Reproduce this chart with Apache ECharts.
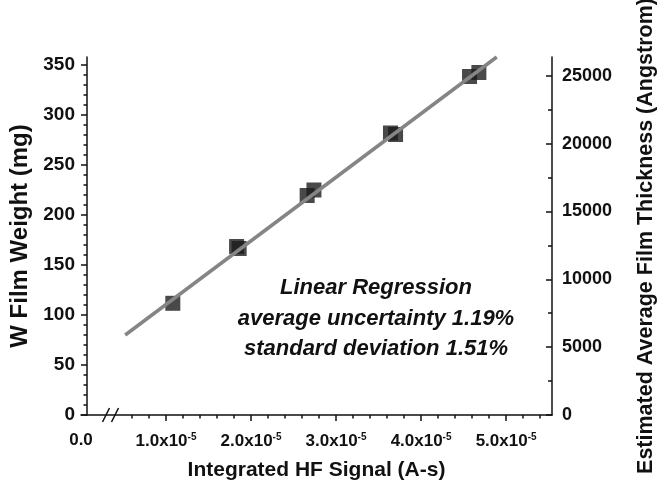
<!DOCTYPE html>
<html>
<head>
<meta charset="utf-8">
<script src="https://cdn.jsdelivr.net/npm/echarts@6/dist/echarts.min.js"></script>
<style>
  html, body { margin: 0; padding: 0; background: #fff; }
  #chart { width: 658px; height: 491px; }
</style>
</head>
<body>
<div id="chart"></div>
<script>
  // measured points: integrated HF signal (A-s) vs W film weight (mg)
  var signal = [1.08e-5, 1.83e-5, 1.86e-5, 2.66e-5, 2.74e-5, 3.64e-5, 3.70e-5, 4.57e-5, 4.68e-5];
  var weight = [111.7, 168.5, 166.5, 219.5, 225, 282, 280.5, 338.5, 342.5];

  // regression line end points
  var fitSignal = [0.52e-5, 4.89e-5];
  var fitWeight = [80, 358];

  // axis ticks
  var xMajor = [1e-5, 2e-5, 3e-5, 4e-5, 5e-5];
  var xLabels = [0, 1e-5, 2e-5, 3e-5, 4e-5, 5e-5];
  var yMajor = [0, 50, 100, 150, 200, 250, 300, 350];
  var thickMajor = [0, 5000, 10000, 15000, 20000, 25000];

  var X_MAX = 5.54e-5;
  var W_MAX = 358;
  var ANG_PER_MG = 73.7;   // right axis scale

  var xMinor = [];
  for (var i = 3; i <= 27; i++) {
    if (i % 5 != 0) xMinor.push(i * 0.2e-5);
  }
  var yMinor = [];
  for (var j = 0; j <= 350; j += 10) {
    if (j % 50 != 0) yMinor.push(j);
  }
  var thickMinor = [2500, 7500, 12500, 17500, 22500];

  var FONT = '"Liberation Sans", Arial, sans-serif';
  var INK = '#111';

  var chart = echarts.init(document.getElementById('chart'));

  var points = signal.map(function (s, k) { return [s, weight[k]]; });
  var fit = fitSignal.map(function (s, k) { return [s, fitWeight[k]]; });

  var option = {
    animation: false,
    backgroundColor: '#fff',
    grid: { left: 81, right: 106, top: 57, bottom: 76, outerBoundsMode: 'none', containLabel: false },
    xAxis: [
      {
        type: 'value',
        min: 0,
        max: X_MAX,
        name: 'Integrated HF Signal (A-s)',
        nameLocation: 'middle',
        nameGap: 45,
        nameTextStyle: { fontFamily: FONT, fontWeight: 'bold', fontSize: 21, color: INK },
        splitLine: { show: false },
        axisLine: { lineStyle: { color: INK, width: 1.5 } },
        axisTick: { customValues: xMajor, length: 6, lineStyle: { color: INK, width: 1.5 } },
        axisLabel: {
          customValues: xLabels,
          margin: 17,
          formatter: function (v) {
            if (v === 0) return '{a|0.0}';
            return '{a|' + (v / 1e-5).toFixed(1) + 'x10}{s|-5}';
          },
          rich: {
            a: { fontFamily: FONT, fontWeight: 'bold', fontSize: 17, color: INK },
            s: { fontFamily: FONT, fontWeight: 'bold', fontSize: 10, color: INK, verticalAlign: 'top', padding: [0, 0, 8, 0] }
          }
        }
      },
      {
        type: 'value',
        min: 0,
        max: X_MAX,
        position: 'bottom',
        splitLine: { show: false },
        axisLine: { show: false },
        axisLabel: { show: false },
        axisTick: { customValues: xMinor, length: 3.5, lineStyle: { color: INK, width: 1.5 } }
      }
    ],
    yAxis: [
      {
        type: 'value',
        min: 0,
        max: W_MAX,
        offset: -6,
        name: 'W Film Weight (mg)',
        nameLocation: 'middle',
        nameRotate: 90,
        nameGap: 48,
        nameTextStyle: { fontFamily: FONT, fontWeight: 'bold', fontSize: 24, color: INK },
        splitLine: { show: false },
        axisLine: { show: true, lineStyle: { color: INK, width: 1.5 } },
        axisTick: { show: true, customValues: yMajor, length: 6, lineStyle: { color: INK, width: 1.5 } },
        axisLabel: {
          customValues: yMajor,
          margin: 12,
          fontFamily: FONT, fontWeight: 'bold', fontSize: 19, color: INK
        }
      },
      {
        type: 'value',
        min: 0,
        max: W_MAX,
        offset: -6,
        position: 'left',
        splitLine: { show: false },
        axisLine: { show: false },
        axisLabel: { show: false },
        axisTick: { show: true, customValues: yMinor, length: 3.5, lineStyle: { color: INK, width: 1.5 } }
      },
      {
        type: 'value',
        min: 0,
        max: W_MAX * ANG_PER_MG,
        position: 'right',
        name: 'Estimated Average Film Thickness (Angstrom)',
        nameLocation: 'middle',
        nameRotate: 90,
        nameGap: 83,
        nameTextStyle: { fontFamily: FONT, fontWeight: 'bold', fontSize: 21.5, color: INK },
        splitLine: { show: false },
        axisLine: { show: true, lineStyle: { color: INK, width: 1.5 } },
        axisTick: { show: true, inside: true, customValues: thickMajor, length: 6, lineStyle: { color: INK, width: 1.5 } },
        axisLabel: {
          customValues: thickMajor,
          margin: 10,
          formatter: function (v) { return String(v); },
          fontFamily: FONT, fontWeight: 'bold', fontSize: 18, color: INK
        }
      },
      {
        type: 'value',
        min: 0,
        max: W_MAX * ANG_PER_MG,
        position: 'right',
        splitLine: { show: false },
        axisLine: { show: false },
        axisLabel: { show: false },
        axisTick: { show: true, inside: true, customValues: thickMinor, length: 4, lineStyle: { color: INK, width: 1.5 } }
      }
    ],
    series: [
      {
        type: 'scatter',
        data: points,
        symbol: 'rect',
        symbolSize: 15,
        itemStyle: { color: '#1c1c1c' },
        z: 2
      },
      {
        type: 'line',
        data: fit,
        symbol: 'none',
        lineStyle: { color: '#858585', width: 3.5 },
        z: 3
      }
    ]
  };
  chart.setOption(option);

  // regression note and the axis break mark "//" near the origin
  var p = chart.convertToPixel({ xAxisIndex: 0, yAxisIndex: 0 }, [0.347e-5, 0]);
  chart.setOption({
    graphic: [
      {
        type: 'text',
        x: 376,
        y: 273,
        style: {
          text: 'Linear Regression\naverage uncertainty 1.19%\nstandard deviation 1.51%',
          align: 'center',
          verticalAlign: 'top',
          font: 'italic bold 22px ' + FONT,
          lineHeight: 30.5,
          fill: INK
        }
      },
      {
        type: 'line',
        shape: { x1: p[0] - 8, y1: p[1] + 7, x2: p[0] - 1, y2: p[1] - 7 },
        style: { stroke: INK, lineWidth: 1.5 }
      },
      {
        type: 'line',
        shape: { x1: p[0] + 1, y1: p[1] + 7, x2: p[0] + 8, y2: p[1] - 7 },
        style: { stroke: INK, lineWidth: 1.5 }
      }
    ]
  });
</script>
</body>
</html>
